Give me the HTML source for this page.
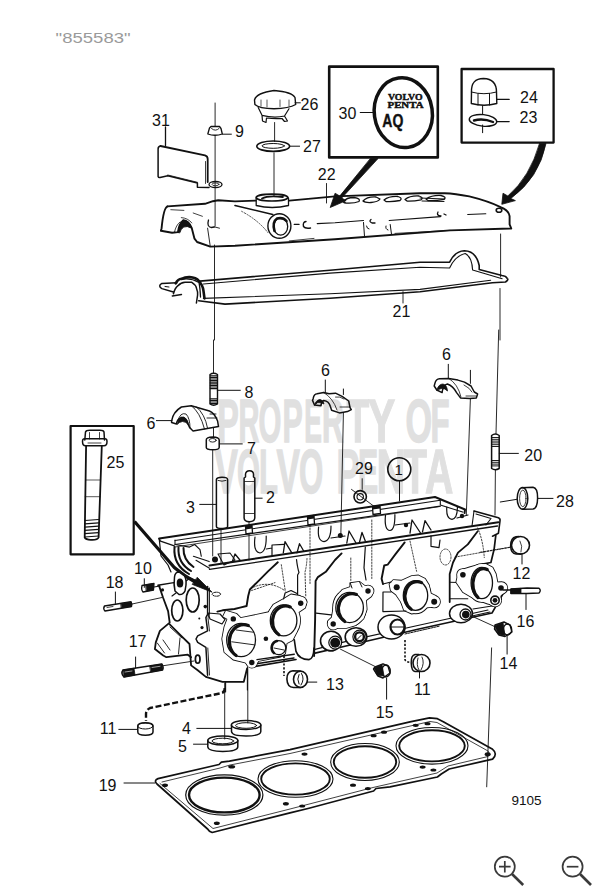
<!DOCTYPE html>
<html><head><meta charset="utf-8">
<style>
html,body{margin:0;padding:0;background:#fff;width:608px;height:895px;overflow:hidden}
svg{display:block}
.t{font-family:"Liberation Sans",sans-serif;font-size:16px;fill:#111}
</style></head><body>
<svg width="608" height="895" viewBox="0 0 608 895">
<rect width="608" height="895" fill="#fff"/>
<text x="55.6" y="43.4" textLength="75" lengthAdjust="spacingAndGlyphs" style="font-family:'Liberation Sans',sans-serif;font-size:15.5px;fill:#9a9a9a">"855583"</text>

<!-- watermark -->
<g fill="#e0e0e0" stroke="#e0e0e0" stroke-width="1.3" vector-effect="non-scaling-stroke" style="font-family:'Liberation Sans',sans-serif;font-weight:bold">
<text transform="translate(217.3 442) scale(0.522 1)" font-size="62">P</text>
<text transform="translate(238.4 442) scale(0.468 1)" font-size="62">R</text>
<text transform="translate(258.6 442) scale(0.474 1)" font-size="62">O</text>
<text transform="translate(282.6 442) scale(0.490 1)" font-size="62">P</text>
<text transform="translate(304.2 442) scale(0.427 1)" font-size="62">E</text>
<text transform="translate(322.1 442) scale(0.486 1)" font-size="62">R</text>
<text transform="translate(346.4 442) scale(0.600 1)" font-size="62">T</text>
<text transform="translate(367.9 442) scale(0.658 1)" font-size="62">Y</text>
<text transform="translate(405.4 442) scale(0.551 1)" font-size="62">O</text>
<text transform="translate(430.6 442) scale(0.504 1)" font-size="62">F</text>
<text transform="translate(214.5 493.3) scale(0.557 1)" font-size="63">V</text>
<text transform="translate(237.1 493.3) scale(0.469 1)" font-size="63">O</text>
<text transform="translate(259.1 493.3) scale(0.493 1)" font-size="63">L</text>
<text transform="translate(276.5 493.3) scale(0.557 1)" font-size="63">V</text>
<text transform="translate(299.0 493.3) scale(0.496 1)" font-size="63">O</text>
<text transform="translate(336.5 493.3) scale(0.542 1)" font-size="63">P</text>
<text transform="translate(358.1 493.3) scale(0.480 1)" font-size="63">E</text>
<text transform="translate(376.5 493.3) scale(0.634 1)" font-size="63">N</text>
<text transform="translate(403.2 493.3) scale(0.615 1)" font-size="63">T</text>
<text transform="translate(425.0 493.3) scale(0.622 1)" font-size="63">A</text>
</g>

<g fill="none" stroke="#111" stroke-width="1.2" stroke-linejoin="round" stroke-linecap="round">
<!-- box 30 -->
<rect x="329.2" y="66.6" width="108.6" height="90.8" stroke-width="2.6"/>
<ellipse cx="403.3" cy="112.7" rx="29" ry="35" stroke-width="3.5" transform="rotate(-8 403.3 112.7)"/>
<line x1="360.3" y1="112.5" x2="373.5" y2="112.5"/>
<!-- box 24/23 -->
<rect x="461.6" y="69" width="92" height="73.6" stroke-width="2.3"/>
<!-- box 25 -->
<rect x="70.6" y="426" width="63.1" height="128.3" stroke-width="2.2"/>
</g>


<!-- ===== TOP SECTION ===== -->
<g fill="none" stroke="#111" stroke-width="1.3" stroke-linejoin="round" stroke-linecap="round">
<!-- bracket 31 -->
<path d="M165.5 127 V145.5"/>
<path d="M160.5 146 Q158 146.5 158.1 149 V176.5 Q158.5 177.8 160 177.5 L167.8 175.7 L197.4 183 L197.4 187.2 L209 187.5" stroke-width="1.5"/>
<path d="M160.5 146 L205 155.4 Q207.7 156.2 207.7 159 V182" stroke-width="1.8"/>
<path d="M205.5 161.5 V183.5 M167.8 175 L197.4 182.3" stroke-width="0.8"/>
<ellipse cx="215.5" cy="184.5" rx="6.5" ry="3"/>
<ellipse cx="215.5" cy="184.3" rx="3.5" ry="1.4" stroke-width="0.8"/>
<!-- nut 9 -->
<path d="M215.1 103 V126 M215.1 136 V226" stroke-width="0.9"/>
<path d="M209.5 128 L211 126.5 H219.5 L221 128.5 L222.3 134 Q215 136.5 207.8 134 Z"/>
<path d="M211.5 128.5 Q215.5 132 219 128.5" stroke-width="0.9"/>
<path d="M222.5 134.2 H231.4" stroke-width="1"/>
<!-- cap 26 -->
<path d="M254.5 100 Q256 93 274 90.5 Q292 92 295 97.5 L295.7 104.5 Q289 108.5 274 108.7 Q259 108.5 254.9 104.5 Z" stroke-width="1.4"/>
<path d="M258.2 107.5 L262 115.3 Q274 118.5 284.5 116 L289 108.7 M262 115.3 L262.5 121 L266 122.5 L266.5 118 Q274 119 282 118.5 L284.5 121.5 L287.5 121 L284.5 116" stroke-width="1.2"/>
<path d="M261 100 V106 M267 100 V107 M280 100 V106.5 M289 100 V106" stroke-width="0.7"/>
<path d="M295 102.8 H300.3" stroke-width="1"/>
<path d="M274.6 122.5 V141.5 M274 152.8 V196" stroke-width="0.9"/>
<!-- ring 27 -->
<ellipse cx="273.2" cy="146.2" rx="16.4" ry="5.2" stroke-width="1.6"/>
<ellipse cx="273.2" cy="145.9" rx="11.2" ry="2.4" stroke-width="1"/>
<path d="M289.7 146.2 H299.6" stroke-width="1"/>
<!-- leader 22 -->
<path d="M326.5 183.5 V203" stroke-width="0.9"/>

<!-- box 24/23 contents -->
<path d="M471.5 92 Q471 78.5 483.5 78.5 Q496.5 79 496.5 92 L496.8 103.5 Q484 107 471.3 103.5 Z" stroke-width="1.4"/>
<path d="M471.3 92 Q484 95.5 496.5 92 M478 93.5 V105 M489.5 93.5 V105" stroke-width="1"/>
<path d="M496.9 99.4 H509.2 M496.9 121.6 H509.2" stroke-width="1.2"/>
<path d="M482.6 105.6 V114 M482.6 125 V132.7" stroke-width="1"/>
<ellipse cx="483" cy="120.4" rx="13.8" ry="5.8" stroke-width="1.4" transform="rotate(6 483 120.4)"/>
<path d="M474 120.5 Q483 118 493 122" stroke-width="2.4"/>
<!-- box 30 arrow -->
<path d="M370.6 158.6 L378 158.6 L341.7 198.1 L346.2 200.6 L330.2 207.5 L335.1 193.2 L339.5 195.9 Z" fill="#111" stroke-width="0.8"/>
<!-- curved arrow to cover -->
<path d="M539.5 143.5 L546 143.5 Q539 178 510.8 198.5 L515.4 200.6 L501.8 204.3 L503 193.2 L507.8 196 Q530 177 539.5 143.5 Z" fill="#111" stroke-width="0.8"/>

<!-- valve cover 22 -->
<path d="M167.5 206.4 Q163.5 208 161.6 228.2 L160.9 230.8 L172.1 232.8 L178 232.1 Q179 224 183.3 220.3 Q189 221 191.8 228.2 L194.5 238.7 L197.1 242 L210.3 246.6 L235 245.8 L335 239.2 L450 230.4 L511.3 228.5 L509.6 224.4 V216.2 Q509 210.5 500.6 207.1 Q488 201 469.3 196.4 Q455 193.5 444.7 193.2 L420 193.2 L335 196.4 L289.3 200.6" stroke-width="1.9"/>
<path d="M167.5 206.4 L205 203.8 L212.9 201.2 L218.2 200.3 L235 201.4 L255.6 200.6" stroke-width="1.9"/>
<path d="M178 232.1 Q179 224 183.3 220.3 Q189 221 191.8 228.2 Q187 225.5 183.5 227 Q180.5 229.5 179.8 232.5 Z" fill="#111" stroke-width="1"/>
<path d="M174.5 232 Q176 225 180 222" stroke-width="0.8"/>
<path d="M170.8 209.7 L183.9 210.4 M181.3 217.6 Q188 218 191.8 222.9 M193.2 213 L202.4 216.3" stroke-width="0.8"/>
<path d="M207.6 228.2 L210.3 246.6 M214.2 226.8 L219.5 228.2" stroke-width="0.9"/>
<path d="M208.5 220 Q206.5 227 211.5 227.5 L214.2 227" stroke-width="1.3"/>
<ellipse cx="272" cy="197.6" rx="15.8" ry="3.4" stroke-width="1.7"/>
<path d="M262 198.5 Q268 195 283 197" stroke-width="1.8"/>
<path d="M256.2 198 V205.5 Q272 209.5 288.5 205.5 V198" stroke-width="1.3"/>
<path d="M235 205.5 L272.8 214.5" stroke-width="1.6"/>
<path d="M241.6 211.3 Q258 220 267.9 232.6" stroke-width="0.7" stroke-dasharray="1.5 1.5"/>
<ellipse cx="279.4" cy="226" rx="11.5" ry="12.3" stroke-width="1.4"/>
<path d="M274.5 231 Q272 222 277 218.5 Q283 217 286.5 221" stroke-width="2.6"/>
<ellipse cx="280.7" cy="226.5" rx="7" ry="8.7" stroke-width="1.3"/>
<path d="M294.2 224.4 H299.1 M317.2 223.6 L335 222.8 L363.5 220.5 M389.2 220.5 L440.5 216.6 M467.7 214.5 L485.8 213.7" stroke-width="1.1"/>
<path d="M306 221.5 Q302.5 222 303.5 226.5 Q305 228.8 310.5 228" stroke-width="1.4"/>
<path d="M371 219.5 Q368.5 221.5 372 223 L375 223 M438 212 Q436 215.5 441 216 M444 214 L446 215" stroke-width="1.3"/>
<path d="M363.5 222.5 L364.5 236.3 M390.2 224.5 L391.5 234.3 M366.5 226 Q367 229 369 229 M386 226 Q385 229 388 230" stroke-width="1"/>
<path d="M289.3 240.9 L314 238.4 M395 233.4 L450 230.4" stroke-width="0.8"/>
<path d="M420 198 L444.7 199 M422 201 L444 201.5" stroke-width="1"/>
<!-- embossed letters -->
<path d="M344 201.5 Q346 197.5 354 197.5 Q361 198.5 359 201.5 Q354 203.5 346 203 Q342.5 202.5 344 201.5 Z M363 201 Q367 196.5 376 197 L380 199 Q378 202 371 202.5 Q365 202.8 363 201 Z M384 200 Q389 196 398 196.5 Q403 198 400 200.5 Q393 202 386 201.5 Z M405 199.5 Q410 195.5 419 196 Q424 197.5 421 199.8 Q414 201.2 407 201 Z M426 199 Q432 195 441 195.5 Q447 197 444 199.3 Q436 200.8 428 200.5 Z" stroke-width="1.3"/>
<ellipse cx="499" cy="210.3" rx="2.8" ry="2" stroke-width="1.6"/>
<!-- gasket 21 -->
<path d="M199.9 281.1 L330 270.2 L420 262.2 L449.6 262.2 Q455 251 464.4 250.7 Q476 251 479.2 265.5 V269.6 L502 275.5 Q506 276 507.2 278.3 Q509 279.5 505.5 282 L492.4 282.8 L420 291.8 L330 298.3 L225 304.1 L198.7 300.7" stroke-width="1.6"/>
<path d="M203.4 284 L330 273.1 L420 267.2 L449.6 268 Q455 256 465.2 253.5 Q472 257 472.6 270 L502.2 278.7 M203.4 298.4 L330 293.8 L420 289.4 L490.7 280.3" stroke-width="1.1"/>
<path d="M176.9 282.8 L161.9 283.4 Q157.5 286 161.9 288.6 L173.4 292" stroke-width="1.5"/>
<path d="M175.7 283.4 Q178 279 181.5 278.8 Q185 277 189.5 277.1 Q196 277.5 199 281 Q203 286 203.4 290.3 L204.5 298.4" stroke-width="2.6"/>
<path d="M173.4 293.8 Q175 288 178 285.7 Q181 282.5 185 282.3 L191.8 282.3 Q196 285 196.4 288 Q198 292 197.6 295 L196.4 303" stroke-width="1.5"/>
<path d="M181.5 279.5 Q190 277.5 199 282.5 Q200 287 200.5 297" stroke-width="1.3"/>
<path d="M172.3 296 L181.5 294.5" stroke-width="1.4"/>
<path d="M165 286.5 L169 287" stroke-width="1"/>
<path d="M214.5 245 V340 M500.6 234 V277 M500 288.5 V340" stroke-width="0.9"/>
<path d="M403 291.7 V303" stroke-width="0.9"/>
</g>


<g fill="#111">
<text x="388" y="100.2" font-family="Liberation Serif" font-weight="bold" font-size="9.2" textLength="34.5" lengthAdjust="spacingAndGlyphs" stroke="#111" stroke-width="0.45">VOLVO</text>
<text x="387.5" y="107.6" font-family="Liberation Serif" font-weight="bold" font-size="9.2" textLength="36" lengthAdjust="spacingAndGlyphs" stroke="#111" stroke-width="0.45">PENTA</text>
<text x="382.3" y="126.6" font-family="Liberation Sans" font-weight="bold" font-size="18.5" textLength="21" lengthAdjust="spacingAndGlyphs" stroke="#111" stroke-width="0.4">AQ</text>
</g>


<!-- ===== MIDDLE SECTION ===== -->
<g fill="none" stroke="#111" stroke-width="1.3" stroke-linejoin="round" stroke-linecap="round">
<!-- stud 8 -->
<path d="M213.5 340 V373" stroke-width="0.9"/>
<path d="M210 374.5 Q213.5 372 217.5 374.5 V404 Q213.5 406.5 210 404 Z" stroke-width="1.4"/>
<path d="M210.3 375.8 H217.2 M210.3 377.4 H217.2 M210.3 379.0 H217.2 M210.3 380.6 H217.2 M210.3 382.2 H217.2 M210.3 383.8 H217.2 M210.3 385.4 H217.2 M210.3 387.0 H217.2 M210.3 388.6 H217.2 M210.3 398.8 H217.2 M210.3 400.4 H217.2 M210.3 402.0 H217.2 M210.3 403.6 H217.2 " stroke-width="1.1"/>
<path d="M217.3 390.3 H240.3" stroke-width="1"/>
<!-- bridge 6 left -->
<path d="M171.6 421 Q173 412 181.4 407 L191.3 405.7 L209.4 411 Q214.5 413 217.6 421 L218.5 426.6 L204.5 429 L193 431 Q189 428 188 424 Q186 417 181 417.6 Q177 419 176.5 424 L171.6 422.5 Z" stroke-width="1.5"/>
<path d="M178 421 Q180 412 186 414 Q190 418 190 428 M191.3 405.7 Q200 412 204.5 429 M196 406.5 Q205 414 207.5 428 M207 418 L217 418 M210 414 H216" stroke-width="0.9"/>
<path d="M156.4 420.6 H172" stroke-width="1"/><path d="M177.5 424 Q178.5 417 183.5 417 Q187.5 418.5 188.5 425 Q186 421.5 182.5 421.5 Q179 422 177.5 424 Z" fill="#111" stroke-width="0.8"/>
<path d="M213.5 427.5 V437" stroke-width="0.9"/>
<!-- part 7 -->
<path d="M206.3 440 Q206 437.2 212.7 437 Q219 437.2 219.2 440 V447.5 Q219 449.8 212.7 449.8 Q206.3 449.7 206.3 447.5 Z" stroke-width="1.5"/>
<ellipse cx="212.7" cy="440.3" rx="3.5" ry="1.8" stroke-width="0.9"/>
<path d="M219.3 443.9 H242.3" stroke-width="1"/>
<path d="M212.7 449.6 V556" stroke-width="0.9"/>
<!-- bridge 6 middle -->
<path d="M313.2 398.4 Q314 394 317.1 393.8 L323.7 392.5 L329 393.8 L335.5 393.2 L342.1 396.4 L348.7 401 L350 407.6 L351.3 409.6 L347.4 411.6 L339.5 412.9 L331.6 410.3 L330.3 406.3 Q329 401 323.7 400.4 Q321 402 321 405.7 L314.5 405 L312.5 400.4 Z" stroke-width="1.5"/>
<path d="M323.7 392.5 Q333 398 337 410 M335.5 397 Q340 396 344 399 M340 407 H350" stroke-width="0.8"/>
<path d="M325.3 380 V392.5 M343.4 389 V394.5" stroke-width="1"/><path d="M314.5 405 Q316 400 320 399.5 Q323.5 400 324 404 Q321 402 318 402.5 Z" fill="#111" stroke-width="0.8"/>
<path d="M343.4 413 L340.8 537" stroke-width="0.9"/>
<!-- bridge 6 right -->
<path d="M434.9 383.4 Q436 379 439.5 378.8 L448.7 378.4 L457.9 380.1 L464.5 382.1 L471 386 L474.3 392 L477.6 394 L476.3 397.9 L469.7 398.6 L460.5 397.9 L456.6 392.6 Q453 386 447.4 384 Q443 385 442.1 392.6 L436.8 390 L434.2 386 Z" stroke-width="1.5"/>
<path d="M448.7 378.4 Q458 384 461 397 M464 385 Q470 388 472 392 M466 396 H476" stroke-width="0.8"/>
<path d="M448.3 364.3 V378.2 M470.4 370.3 V383.4" stroke-width="1"/><path d="M436.8 390 Q438.5 384 443 384 Q447 385 447.5 391 Q445 388 441.5 388.5 Z" fill="#111" stroke-width="0.8"/>
<path d="M470.4 398.6 L466.3 515" stroke-width="0.9"/>
<!-- stud 20 -->
<path d="M498.7 330 L496 433.6" stroke-width="0.9"/>
<path d="M491.6 435.5 Q495.3 432.5 499.2 435.5 V468.5 Q495.3 471 491.6 468.5 Z" stroke-width="1.5"/>
<path d="M491.9 437.5 H499 M491.9 439.3 H499 M491.9 441.1 H499 M491.9 442.9 H499 M491.9 444.7 H499 M491.9 446.5 H499 M491.9 460.5 H499 M491.9 462.3 H499 M491.9 464.1 H499 M491.9 465.9 H499 " stroke-width="0.95"/>
<path d="M499.3 453.4 H518.4" stroke-width="1"/>
<path d="M495.4 470 L495 515" stroke-width="0.9"/>
<!-- ring 28 -->
<path d="M522 487.7 L533 487.2 Q537.8 488 537.6 498 Q537.5 508.5 533 509 L522.5 509.2" stroke-width="1.5"/>
<ellipse cx="522.5" cy="498.4" rx="5.3" ry="10.8" stroke-width="1.5"/>
<ellipse cx="522.8" cy="498.4" rx="3.2" ry="8.3" stroke-width="0.8"/>
<path d="M537.5 498.4 H553 M500.3 502 L517 499.3" stroke-width="1"/>
<!-- 29 -->
<path d="M362.2 478.7 V489.4 M351.5 489.4 L374.5 506.7" stroke-width="0.9"/>
<circle cx="360.2" cy="496.8" r="6.2" stroke-width="1.6"/>
<circle cx="360.2" cy="496.8" r="3.2" stroke-width="1.1"/>
<!-- circle 1 -->
<circle cx="399.3" cy="469.3" r="11.5" stroke-width="1.6"/>
<path d="M399.5 480.8 V501" stroke-width="1"/>
<!-- pushrod 3 -->
<path d="M216.4 479.5 Q216.8 477.3 222 477.3 Q227.5 477.3 227.6 479.5 V526.5 Q227.5 528.5 222 528.5 Q216.5 528.5 216.4 526.5 Z" stroke-width="1.5"/>
<path d="M218 480.5 Q222 482 226 480.5" stroke-width="0.9"/>
<path d="M199.7 504.4 H216.2" stroke-width="1"/>
<path d="M221 528.5 V563" stroke-width="0.9"/>
<!-- pushrod 2 -->
<path d="M245.5 474 Q246 470.7 249.5 470.7 Q253.2 470.7 253.5 474 V477 L254.8 478 V518 Q254.5 521.7 249.5 521.7 Q244.3 521.7 244.1 518 V478 L245.5 477 Z" stroke-width="1.5"/>
<path d="M244.5 481.5 H254.5 M244.5 513.5 H254.5" stroke-width="0.8"/>
<path d="M254.8 498.2 H262.2" stroke-width="1"/>
<path d="M249 521.7 V560" stroke-width="0.9"/>
<!-- bolt 25 in box -->
<path d="M84.8 440 L85.5 432 Q86 430.2 90 430.2 H100 Q103.5 430.2 104 432 L104.5 440" stroke-width="1.5"/>
<path d="M82.5 441.5 Q82.5 438.5 85 438.8 H104.5 Q107 438.5 107 441.5 Q107 445.8 104 445.8 H85.5 Q82.5 445.8 82.5 441.5 Z" stroke-width="1.5"/>
<path d="M89.5 432.5 V439 M99.5 432.5 V439 M88 443 H101" stroke-width="0.8"/>
<path d="M86.1 445.8 L84.7 537.5 Q86 540 91.5 539.8 Q97.5 540 98.6 537.5 L101.8 445.8" stroke-width="1.8"/>
<path d="M85.5 480 H100.3 M85.2 496.7 H100" stroke-width="0.7"/><path d="M85 520.5 L98.5 519.5 M84.9 523.8 L98.6 522.8 M84.8 527.1 L98.5 526.1 M84.8 530.4 L98.5 529.4 M84.7 533.7 L98.5 532.7 M84.7 537 L98.5 536" stroke-width="1.2"/>
<!-- arrow from box 25 -->
<path d="M134.5 521.5 L174.3 567.5 Q184 576 196 582.5" stroke-width="3.3" stroke-linecap="butt"/>
<path d="M192.5 584.5 L212.1 592.2 L197.5 577.5 Z" fill="#111" stroke-width="0.8"/>
</g>


<!-- ===== CYLINDER HEAD ===== -->
<g fill="none" stroke="#111" stroke-width="1.4" stroke-linejoin="round" stroke-linecap="round">
<!-- rim back top -->
<path d="M159.2 538.6 L435 497 L465 509.5 L464.5 513" stroke-width="2"/>
<path d="M175 540.5 L440.3 500.3 L440.3 504.9 L462.6 512.1" stroke-width="1.1"/>
<path d="M175 540 V544.5 L189.5 547.1 L194.7 544.5 L200 549.7 L201.3 556.3" stroke-width="1.1"/>
<path d="M175 544.5 L440.3 506.2" stroke-width="1.2"/>
<path d="M159.2 538.6 L160.5 541.2 L174.3 545.8" stroke-width="1.3"/>
<!-- rim right end piece -->
<path d="M474 511 L498.4 517.7 Q500.5 518.5 500 521 L498.4 533.3 L492.5 536.2" stroke-width="1.6"/>
<path d="M474 511 L472 526 M476 514 L491 518.5 L486 525" stroke-width="1.1"/>
<!-- rim front -->
<path d="M209.5 565.5 L498.4 522.2" stroke-width="2"/>
<path d="M209.5 569.3 L497.5 526" stroke-width="1.3"/>
<path d="M196 560.3 L209.5 568.2 M193.4 556.3 L209.2 561.6" stroke-width="1.1"/>
<!-- rim dividers -->
<path d="M307.5 516.5 L314 515.5 L314.5 524 L308 525 Z M372.5 506.5 L380 505.5 L380.5 513.5 L373 514.5 Z M245.5 526.5 L252 525.5 L252.5 533 L246 534 Z" fill="#fff" stroke-width="1.3"/>
<path d="M307.5 516.5 L314 515.5 L314 518.5 L307.5 519.5 Z M372.5 506.5 L380 505.5 L380 508.5 L372.5 509.5 Z M245.5 526.5 L252 525.5 L252 528.5 L245.5 529.5 Z" fill="#111" stroke="none"/>
<path d="M175 547 L440 506.5" stroke-width="0.8"/>
<!-- left bearing arch -->
<path d="M174.5 547 Q173 565 189 574 M178.5 547.5 Q177.5 563 191 571 M183.5 548 Q183 560 193.5 567" stroke-width="2"/><path d="M174.5 547 L183.5 548 L193.5 567 L189 574 Z" fill="none" stroke-width="0"/>
<!-- cam pockets -->
<path d="M255 537 Q253 552 260 553 Q266.5 552 266.2 536" stroke-width="1.2"/>
<path d="M318.6 527 Q317 541 324 541.6 Q331 540.5 331 526" stroke-width="1.2"/>
<path d="M385.5 515 Q384 530 390 530.5 Q395 530 394.9 514.7" stroke-width="1.2"/>
<path d="M446.8 507 Q446 519 452 519.3 Q457.5 518.5 457.4 506.8" stroke-width="1.2"/>
<!-- pedestals -->
<path d="M232.6 560.8 L235 554 L239.9 560 M283.3 552.9 L285 541.7 L291.8 552.9 M297 552.9 L299.5 543.7 L303.7 551" stroke-width="1.3"/>
<path d="M346.8 543 L349 531 L356 543 M359.3 543 L362 532.4 L365.3 541" stroke-width="1.3"/>
<path d="M410 533.2 L412 520 L420.5 533 M422.5 531.8 L425 520.7 L431 530" stroke-width="1.3"/>
<path d="M272 555.5 V545 L284 544.3 M266.3 549 L272 548 M331 538 L345 536 M395 525 L410 523 M457 518 L468 515" stroke-width="1.2"/>
<circle cx="215" cy="559.5" r="3" fill="#111" stroke="none"/>
<circle cx="340.3" cy="535.5" r="2.5" fill="#111" stroke="none"/>
<circle cx="406" cy="525" r="2.2" fill="#111" stroke="none"/>
<circle cx="462" cy="516" r="2.2" fill="#111" stroke="none"/>
<path d="M218 554 L230 553 L235 560 L224 565 Z" stroke-width="1.1"/>
<!-- body outlines below rim -->
<path d="M277.8 562.3 L268 571.4 L258.1 581.3 L249.9 589.5 L248.2 596 L246.6 606 L240 607.6 L234.5 609 L222.6 610.3 L217.4 611.6" stroke-width="1.9"/>
<path d="M341.6 553.4 L335 560 L325.8 571.8 L317.9 577.1 L315.6 581 L315.1 620 L314.1 656" stroke-width="1.9"/><path d="M316.1 613.2 L333.2 615.2" stroke-width="1.2"/>
<path d="M404.7 542.4 L395.5 554.2 L387.6 564.7 L384.2 565.5 L381.6 578.7 L383 584" stroke-width="1.9"/>
<path d="M477.7 531.3 L467.8 544.4 L458 552.6 L453 562.5 L449.7 574 L449.7 602" stroke-width="1.8"/>
<path d="M495.8 535.4 L494.1 549.3 L490.9 562.5 L482.6 564.1" stroke-width="1.7"/>
<path d="M296.5 559.5 Q297.5 568 299 572.5 L297.6 575 V595 M365.3 547 L364 567.9 L366 580 M431 535.8 V546.3 L439 547.6 L440 540" stroke-width="1.2"/><path d="M307 558.5 Q306.5 567 305 572 L305.8 597" stroke-width="0.8" stroke-dasharray="1.5 1.5"/>
<path d="M281.3 564.7 L285.3 591 M253.7 587.1 Q270 580 285.3 591 M350.8 558 L350.8 581 M410 541 L416.6 571.3 M371.8 520 V580 M310 525 V585" stroke-width="0.8" stroke-dasharray="1.5 1.5"/>
<ellipse cx="445.5" cy="557" rx="5.5" ry="8" stroke-width="0.8" stroke-dasharray="1.5 1.5"/>
<path d="M251.6 590.5 L275 582.6 M455 557.1 L511 547.2" stroke-width="0.8" stroke-dasharray="1.5 1.5"/>
<path d="M477.7 528 Q483 540 484.3 557.6" stroke-width="0.8" stroke-dasharray="1.5 1.5"/><path d="M449.7 582.2 L458 582.5 M449.7 598.7 L467.8 598.7" stroke-width="1.1"/>
<!-- left end: face & plate -->
<path d="M159.2 538.6 L161 556 L168 565 L171 572" stroke-width="1.2"/>
<path d="M157.9 585.3 L173.7 582.6 L182 584 L190 578 L201 583" stroke-width="1.4"/>
<path d="M159 585.6 L163.2 598 L168.1 611.1 L169.7 622.6 L159.9 630.9 L155.8 642.4 L154.9 649 L163.2 655.5 L166.4 657.2 L187.8 654.7 L191.1 657.2" stroke-width="1.8"/>
<path d="M169.7 624.3 L181.2 635.8 L189.5 644 L191.1 665.4 L197.7 670.3 L205.9 676.9 L222.4 681.8 L243.8 681.8 L247 668.7" stroke-width="1.8"/>
<path d="M157.3 643 L164.5 653 M163 640 L170 650 M170 627 L182 638 M180 638 L178.5 654" stroke-width="0.9"/>
<ellipse cx="177.3" cy="610.5" rx="5.6" ry="10.5" stroke-width="1.7"/>
<ellipse cx="192.7" cy="600" rx="6.5" ry="12" stroke-width="1.7"/>
<path d="M207.6 586.4 V614.4 L205.9 617.7 L207.6 630.9 L197.7 635.8 L196 639 L197.7 642.4 L205.9 647.3 L207.6 675.3" stroke-width="1.5"/><path d="M209.5 588 V614 L208 618 L209.5 631 M207.8 648 L209.5 675" stroke-width="0.9"/>
<ellipse cx="197.7" cy="659.2" rx="2.3" ry="4" stroke-width="1.8"/>
<circle cx="205.3" cy="606.6" r="1.8" fill="#111" stroke="none"/>
<circle cx="202" cy="627.6" r="1.6" fill="#111" stroke="none"/>
<circle cx="199.3" cy="618.4" r="1" fill="#111" stroke="none"/>
<circle cx="162.5" cy="589.9" r="1.6" fill="#111" stroke="none"/>
<path d="M174.5 577 Q175 572 179 572 L184.5 576 Q186.5 579 186 585 L185 591 Q183 595 179 594.5 L175 591 Q173.5 585 174.5 577 Z" fill="#fff" stroke-width="1.5"/><ellipse cx="180" cy="583" rx="3.3" ry="4.5" fill="#111" stroke="none"/><path d="M176 593 L172 596" stroke-width="1.2"/>
<path d="M208 613 L220 614 L225 619.5 L222 624 L210 619 Z" stroke-width="1.2"/>
<ellipse cx="216.4" cy="594.2" rx="4.2" ry="2" stroke-width="1" stroke-dasharray="1.5 1"/>
<!-- bottom edges -->
<path d="M253.3 666.7 L296 659.5 M314 653.4 L350.3 645 L420 628.7 L492 613 L502.9 594.1" stroke-width="1.6"/>
<path d="M315 649.4 L350.3 640.4 L420 625 L488 610" stroke-width="1.1"/>
<path d="M225.6 682 V692 M247.4 667 V690" stroke-width="1.1"/>
<!-- flange 1 -->
<g fill="#fff" stroke="#111" stroke-width="1.7"><path d="M223 616.6 L227.4 618.9 L224.4 627 L222.2 638.8 L224.4 652.2 L233.3 659.6 L245.2 662.5 L248.9 666.2 L255.5 665.5 L258.5 661 L280.7 656.6 L285.1 653.6 L286.6 643.3 L292.5 640.3 L297 631.4 L297.7 619.6 L298.4 612.2 L305.1 607.8 L306.6 601.8 L299.9 595.9 L291 594.4 L283.6 598.9 L273.3 604.8 L268.8 612.2 L240.7 618.1 L236.3 613.7 L225.9 610.7 Z"/><ellipse cx="241.1" cy="640" rx="17.8" ry="20"/><ellipse cx="283.6" cy="620.4" rx="16.5" ry="18.6"/><circle cx="233.3" cy="618.9" r="5.2"/><circle cx="300.7" cy="602.3" r="5.8"/><circle cx="251.8" cy="662.5" r="5.2"/></g>
<g fill="#fff" stroke="none"><path d="M223 616.6 L227.4 618.9 L224.4 627 L222.2 638.8 L224.4 652.2 L233.3 659.6 L245.2 662.5 L248.9 666.2 L255.5 665.5 L258.5 661 L280.7 656.6 L285.1 653.6 L286.6 643.3 L292.5 640.3 L297 631.4 L297.7 619.6 L298.4 612.2 L305.1 607.8 L306.6 601.8 L299.9 595.9 L291 594.4 L283.6 598.9 L273.3 604.8 L268.8 612.2 L240.7 618.1 L236.3 613.7 L225.9 610.7 Z"/><ellipse cx="241.1" cy="640" rx="17.8" ry="20"/><ellipse cx="283.6" cy="620.4" rx="16.5" ry="18.6"/><circle cx="233.3" cy="618.9" r="5.2"/><circle cx="300.7" cy="602.3" r="5.8"/><circle cx="251.8" cy="662.5" r="5.2"/></g>
<ellipse cx="241.1" cy="640" rx="14.4" ry="16.7" stroke-width="1.3"/><path d="M236.1 655.5 A14.4 16.7 0 0 1 248.3 625.5" stroke-width="3.2"/><ellipse cx="283.6" cy="620.4" rx="13.3" ry="15.5" stroke-width="1.3"/><path d="M278.9 634.8 A13.3 15.5 0 0 1 290.2 606.9" stroke-width="3.2"/><path d="M231.8 641.8 L254 644.8 M236.3 630 L253.3 632.2" stroke-width="0.9"/><circle cx="278.8" cy="647.7" r="7" stroke-width="1.3"/><path d="M274 653 A7 7 0 0 1 277 641" stroke-width="2.6"/><path d="M274 648 L284 650" stroke-width="0.9"/><circle cx="233.3" cy="618.9" r="2.7" fill="#111" stroke="none"/><circle cx="300.7" cy="603.3" r="2.7" fill="#111" stroke="none"/><circle cx="251.8" cy="662.5" r="2.7" fill="#111" stroke="none"/><circle cx="265.9" cy="638.8" r="2.3" fill="#111" stroke="none"/><path d="M285.1 593 L291 590.5 L297 593.5 M283.6 598.9 L285.1 593" stroke-width="1.2"/><path d="M257 659.6 L294.3 654.2 M258 663.5 L294 658" stroke-width="1.4"/><path d="M294.3 639.9 L296 651.4 Q299 659.5 309 659.6 Q313.5 659 314 648" stroke-width="1.6"/>
<!-- flange 2 -->
<g fill="#fff" stroke="#111" stroke-width="1.7"><path d="M350.3 583.2 L359.5 581.8 L364.7 585.8 L370 586.4 L373.3 591 L371.3 596.3 L366 600.3 L366.7 609.5 L363.4 618.7 L355.5 625.3 L346.3 628 L338.4 628 L334.5 628.6 L329.2 626.6 L327.9 621.3 L331.8 617.4 L333.2 609.5 L335.8 597.6 L342.4 589.7 L350.3 587.1 Z"/><ellipse cx="349.6" cy="607.5" rx="16.5" ry="18.5"/><circle cx="368" cy="591" r="5.5"/><circle cx="333.2" cy="624" r="5.5"/></g>
<g fill="#fff" stroke="none"><path d="M350.3 583.2 L359.5 581.8 L364.7 585.8 L370 586.4 L373.3 591 L371.3 596.3 L366 600.3 L366.7 609.5 L363.4 618.7 L355.5 625.3 L346.3 628 L338.4 628 L334.5 628.6 L329.2 626.6 L327.9 621.3 L331.8 617.4 L333.2 609.5 L335.8 597.6 L342.4 589.7 L350.3 587.1 Z"/><ellipse cx="349.6" cy="607.5" rx="16.5" ry="18.5"/><circle cx="368" cy="591" r="5.5"/><circle cx="333.2" cy="624" r="5.5"/></g>
<ellipse cx="349.6" cy="607.5" rx="13.8" ry="15.1" stroke-width="1.3"/><path d="M344.8 621.5 A13.8 15.1 0 0 1 356.5 594.4" stroke-width="3.2"/><circle cx="368" cy="591" r="2.7" fill="#111" stroke="none"/><circle cx="333.2" cy="624" r="2.7" fill="#111" stroke="none"/><path d="M350.3 583.2 L352 588 M359.5 581.8 L362 587" stroke-width="1"/>
<ellipse cx="331" cy="641" rx="10.5" ry="9.8" fill="#fff" stroke-width="1.6"/><path d="M322 646 Q325 652 333 651" stroke-width="1"/><circle cx="335.2" cy="642.6" r="6.4" fill="#fff" stroke-width="1.2"/><circle cx="335.2" cy="642.8" r="5" fill="#111" stroke="none"/><ellipse cx="356" cy="637" rx="10.8" ry="9.3" fill="#fff" stroke-width="1.6"/><circle cx="359.5" cy="636.8" r="6.6" fill="#fff" stroke-width="1.2"/><circle cx="359.5" cy="636.8" r="4.4" fill="#fff" stroke-width="2.4"/><path d="M357.5 639 L361 635.5" stroke-width="1"/>
<!-- flange 3 -->
<g fill="#fff" stroke="#111" stroke-width="1.7"><path d="M389.5 584 L393.4 580 L401.3 580.7 L411.8 576 L418.4 575.4 L425 578.7 L429 585.3 L430.3 593.2 L435.5 595.8 L438.8 600.4 L436.8 605.7 L431.6 607 L425 607.6 L419.7 611.6 L411.8 613.6 L404 610.3 L401.3 602.4 L396 594.5 L390.8 590.5 Z"/><ellipse cx="415.5" cy="595.5" rx="15.3" ry="17.8"/><circle cx="396.7" cy="587.2" r="5.8"/><circle cx="434.2" cy="601.7" r="5.8"/></g>
<g fill="#fff" stroke="none"><path d="M389.5 584 L393.4 580 L401.3 580.7 L411.8 576 L418.4 575.4 L425 578.7 L429 585.3 L430.3 593.2 L435.5 595.8 L438.8 600.4 L436.8 605.7 L431.6 607 L425 607.6 L419.7 611.6 L411.8 613.6 L404 610.3 L401.3 602.4 L396 594.5 L390.8 590.5 Z"/><ellipse cx="415.5" cy="595.5" rx="15.3" ry="17.8"/><circle cx="396.7" cy="587.2" r="5.8"/><circle cx="434.2" cy="601.7" r="5.8"/></g>
<ellipse cx="415.5" cy="595.5" rx="12.2" ry="14.8" stroke-width="1.3"/><path d="M411.2 609.3 A12.2 14.8 0 0 1 421.6 582.6" stroke-width="3.2"/><circle cx="396.7" cy="587.2" r="3" fill="#111" stroke="none"/><circle cx="434.2" cy="601.7" r="3" fill="#111" stroke="none"/><path d="M383 584 L391 582 M382.9 611.6 L383 592 L391 592 M382.9 611.6 L406 611" stroke-width="1.2"/><ellipse cx="391.5" cy="627" rx="13.5" ry="12" fill="#fff" stroke-width="1.5"/><ellipse cx="397.5" cy="627" rx="7" ry="7.5" fill="#fff" stroke-width="2.2"/><path d="M391 627 H404" stroke-width="1"/><path d="M405 634 L440 626" stroke-width="1" stroke-dasharray="2 1"/>
<!-- flange 4 -->
<g fill="#fff" stroke="#111" stroke-width="1.7"><path d="M458.8 570.7 L469.5 567.4 L477.7 565 L485.9 564.1 L492.5 567.4 L495.8 574 L497.4 582.2 L504 583 L506.5 587.2 L504.8 592.1 L500.7 595.4 L499.1 602 L494.1 605.3 L487.6 603.6 L474.4 598.7 L462.9 592.1 L456.3 582.2 Z"/><ellipse cx="481.8" cy="583" rx="14.2" ry="19"/><circle cx="462.9" cy="574.8" r="5.8"/><circle cx="501.5" cy="588" r="5.8"/><circle cx="495" cy="600.3" r="6.2"/></g>
<g fill="#fff" stroke="none"><path d="M458.8 570.7 L469.5 567.4 L477.7 565 L485.9 564.1 L492.5 567.4 L495.8 574 L497.4 582.2 L504 583 L506.5 587.2 L504.8 592.1 L500.7 595.4 L499.1 602 L494.1 605.3 L487.6 603.6 L474.4 598.7 L462.9 592.1 L456.3 582.2 Z"/><ellipse cx="481.8" cy="583" rx="14.2" ry="19"/><circle cx="462.9" cy="574.8" r="5.8"/><circle cx="501.5" cy="588" r="5.8"/><circle cx="495" cy="600.3" r="6.2"/></g>
<ellipse cx="481.8" cy="583" rx="10.7" ry="15.6" stroke-width="1.3"/><path d="M478 597.5 A10.7 15.6 0 0 1 487.2 569.5" stroke-width="3.2"/><circle cx="462.9" cy="574.8" r="2.8" fill="#111" stroke="none"/><circle cx="501" cy="588" r="2.8" fill="#111" stroke="none"/><circle cx="495" cy="600.3" r="4.2" stroke-width="1.6"/><circle cx="495" cy="600.3" r="2.4" fill="#111" stroke="none"/><ellipse cx="461" cy="613.5" rx="11.5" ry="9.2" fill="#fff" stroke-width="1.5"/><ellipse cx="465.5" cy="614.5" rx="5.5" ry="5.5" fill="#fff" stroke-width="1.3"/><circle cx="465.8" cy="614.6" r="3.8" fill="#111" stroke="none"/><path d="M473 609 L492 606 M472 616 L490 612" stroke-width="1.1"/>
</g>
<!-- ===== LOWER SMALL PARTS ===== -->
<g fill="none" stroke="#111" stroke-width="1.3" stroke-linejoin="round" stroke-linecap="round">
<!-- 18 -->
<path d="M115.4 592 V603.5" stroke-width="1"/>
<path d="M104.5 606 L131 601.8 Q132.5 604 131.5 606.5 L105 611 Q102.8 608.5 104.5 606 Z" stroke-width="1.4"/>
<path d="M121 603.5 L131.5 602 L131.5 606.5 L121.5 608 Z" fill="#111" stroke-width="0.8"/>
<path d="M107 607.5 L113 606.5" stroke-width="0.8"/>
<path d="M131.2 604.2 L162 597.5" stroke-width="0.9"/>
<!-- 10 -->
<path d="M144.3 578.7 V587.4" stroke-width="1"/>
<path d="M142 585.5 Q141 590 143 592 L153.5 590 L154 583.5 Z" stroke-width="1.3"/>
<path d="M146 584.8 L153.5 583.5 L153.5 590 L146.5 591.2 Z" fill="#111" stroke-width="0.8"/>
<path d="M154 587 L160 586" stroke-width="1.2"/>
<!-- 17 -->
<path d="M135.6 657 V668" stroke-width="1"/>
<path d="M123 670 L162 664 Q164 667.5 162.5 670 L124 677 Q120.5 673.5 123 670 Z" stroke-width="1.5"/>
<path d="M123 670 L134 668.3 L135 675 L124 677 Z M150 666 L162 664 L162.5 670 L151 672 Z" fill="#111" stroke-width="0.8"/>
<path d="M125 672 L132 671 M152 667.5 L160 666.3" stroke="#fff" stroke-width="0.6"/>
<path d="M162.7 665.8 L194 661" stroke-width="0.9"/>
<!-- dashed line to 11 left -->
<path d="M224.7 688 Q225 692 222 693 L150 708 Q146 710 146 714 V721" stroke-width="2.4" stroke-dasharray="6 2.5" stroke-linecap="butt"/>
<!-- 11 left -->
<path d="M137.8 726 Q137.5 722.8 145.3 722.8 Q153 722.8 153 726 V732 Q153 735.2 145.3 735.2 Q137.6 735.2 137.8 732 Z" stroke-width="1.5"/>
<ellipse cx="145.3" cy="726" rx="7.6" ry="3" stroke-width="1"/>
<path d="M118.8 729.4 H137.6" stroke-width="1"/>
<!-- 4 / 5 rings -->
<path d="M224.7 683 V739 M247.8 668.6 V722.8" stroke-width="0.9"/>
<path d="M231.5 725 V731.5 Q232 736 246 736 Q260.5 736 260.8 731.5 V725" stroke-width="1.5"/>
<ellipse cx="246.1" cy="725" rx="14.7" ry="4.5" stroke-width="1.5"/>
<ellipse cx="246.1" cy="725.5" rx="10.5" ry="2.8" stroke-width="1"/>
<path d="M196.8 728.4 H231.3" stroke-width="1"/>
<path d="M207.8 740.5 V747 Q208.5 751.4 222.8 751.4 Q237.5 751.4 237.8 747 V740.5" stroke-width="1.5"/>
<ellipse cx="222.8" cy="740.5" rx="15" ry="4.5" stroke-width="1.5"/>
<ellipse cx="222.8" cy="741" rx="10.8" ry="2.8" stroke-width="1"/>
<path d="M193.5 744.2 H207.8" stroke-width="1"/>
<!-- 13 -->
<path d="M284 655.8 V676" stroke-width="1.6" stroke-dasharray="2.2 1.6" stroke-linecap="butt"/>
<path d="M300 671.1 L293 670.8 Q286.8 671.5 286.9 679 Q287.2 687.2 293.5 687.5 L300.5 687.5" stroke-width="1.6"/>
<ellipse cx="300.5" cy="679.3" rx="7" ry="8.2" stroke-width="1.6"/>
<path d="M299 674.5 Q296.5 679 299 684 M301.5 673.5 Q305 679 301 685" stroke-width="1"/>
<path d="M307.6 682.1 H316.8" stroke-width="1"/>
<!-- 15 -->
<path d="M340.5 649.2 L374.7 666.3" stroke-width="0.9"/>
<path d="M375 667 L383 663.8 L388 666 L390 673 L383 678 L378 676 L373.5 669 Z" stroke-width="1.4"/>
<path d="M374 668 L382 664.5 L384 676 L377.5 675.5 Z" fill="#111" stroke-width="0.8"/>
<ellipse cx="386" cy="671" rx="4.3" ry="6" stroke-width="1.3"/>
<path d="M386.6 678.2 V699.2" stroke-width="1"/>
<!-- 11 right -->
<path d="M405 640 V659.5 Q405.5 662 411 662.4" stroke-width="1.6" stroke-dasharray="2.2 1.6" stroke-linecap="butt"/>
<path d="M419 654.6 L415 654.6 Q411 655.5 411.2 663 Q411.5 671 415 671.5 L420 671.5" stroke-width="1.5"/>
<ellipse cx="421.5" cy="663" rx="8.5" ry="8.5" stroke-width="1.6"/>
<path d="M418 658 Q416 665 419 670 M422 657 Q425 663 421 670" stroke-width="0.9"/>
<path d="M419.5 671.6 V678" stroke-width="1"/>
<!-- 12 -->
<path d="M480 552.3 L511.2 547" stroke-width="0.9" stroke-dasharray="2 1.5"/>
<path d="M519 536.5 L516 536.8 Q510.5 538 510.6 546 Q511 553.8 516 554 L521 554" stroke-width="1.5"/>
<ellipse cx="520.5" cy="545.3" rx="9" ry="8.8" stroke-width="1.6"/>
<path d="M520 541 Q523 546 521 552" stroke-width="0.8"/>
<path d="M522 554 V564" stroke-width="1"/>
<!-- 16 -->
<path d="M511 589 L527 588 L539 588.3 Q541.5 590.5 539 593 L527 593.5 L511 593.5 Z" stroke-width="1.4"/>
<path d="M511 589 L521 588.4 L521 593.5 L511 593.5 Z" fill="#111" stroke-width="0.8"/>
<path d="M526 593.4 V609.5" stroke-width="1"/>
<path d="M503 590 L511 590" stroke-width="1.5"/>
<!-- 14 -->
<path d="M473.3 616.8 L495 626.7" stroke-width="0.9"/>
<path d="M495 625 L504 622 L510 625 L512 632 L505 636.5 L499 635 L494.5 629 Z" stroke-width="1.4"/>
<path d="M494.5 626 L503 622.5 L505 635.5 L498.5 634.5 Z" fill="#111" stroke-width="0.8"/>
<ellipse cx="507.5" cy="629.5" rx="4.2" ry="5.5" stroke-width="1.3"/>
<path d="M507.1 636.3 V654.1" stroke-width="1"/>
<path d="M491.6 647.9 L486.7 786.8" stroke-width="0.9"/>
</g>


<!-- ===== HEAD GASKET 19 ===== -->
<g fill="none" stroke="#111" stroke-width="1.3" stroke-linejoin="round" stroke-linecap="round">
<path d="M158 778.6 L219 764.5 L221.4 762.2 L229.4 761.1 L290 749.6 L410 721.9 L429.5 717.8 L437.4 718.7 L443.3 721.7 L492.6 749.3 Q498 753.5 492.6 759.2 L449.2 769 L441.3 774 L437.4 777 L390 786.8 L376 788.5 L373.6 791 L309 808.2 L290 812.9 L212.2 832.5 Q209 831.5 207.6 829 L157 784 Q153.5 780.5 158 778.6 Z" stroke-width="1.7"/>
<path d="M162 782 L220 768 L230 765 L290 753.5 L430 721.5 L437 722.5 L488 751 Q491 754 488 756.5 L448 766 L437 773 L373 787.5 L290 809 L213 828.5 L160 783.5" stroke-width="0.8"/>
<ellipse cx="224.3" cy="795" rx="38.6" ry="20.2" stroke-width="1.2"/>
<ellipse cx="224.3" cy="795" rx="35.3" ry="17.4" stroke-width="2.4"/>
<ellipse cx="295.5" cy="779" rx="37.5" ry="18.3" stroke-width="1.1"/>
<ellipse cx="295.5" cy="779" rx="34.3" ry="15.6" stroke-width="1.9"/>
<ellipse cx="365" cy="762" rx="34.3" ry="18.5" stroke-width="1.1"/>
<ellipse cx="365" cy="762" rx="31.2" ry="15.8" stroke-width="1.9"/>
<ellipse cx="432" cy="745.8" rx="36" ry="18.3" stroke-width="1.1"/>
<ellipse cx="432" cy="745.8" rx="32.8" ry="15.6" stroke-width="1.9"/>
</g>
<g fill="#111">
<ellipse cx="165" cy="785.3" rx="3" ry="1.8"/>
<ellipse cx="216.8" cy="823.3" rx="3" ry="1.8"/>
<ellipse cx="231.7" cy="766.8" rx="3.5" ry="1.8"/>
<ellipse cx="285.9" cy="803.7" rx="3" ry="1.8"/>
<ellipse cx="304.5" cy="754.1" rx="3" ry="1.6"/>
<ellipse cx="373.6" cy="735.7" rx="3" ry="1.6"/>
<ellipse cx="384" cy="732.2" rx="3" ry="1.6"/>
<ellipse cx="353" cy="785.2" rx="3" ry="1.6"/>
<ellipse cx="367.9" cy="788.6" rx="3" ry="1.6"/>
<ellipse cx="302.2" cy="806" rx="3" ry="1.6"/>
<ellipse cx="415.7" cy="725.3" rx="3" ry="1.6"/>
<ellipse cx="427.5" cy="723.7" rx="3" ry="1.6"/>
<ellipse cx="422.6" cy="767.1" rx="3" ry="1.6"/>
<ellipse cx="433.4" cy="770" rx="3" ry="1.6"/>
<ellipse cx="487.7" cy="754.3" rx="3" ry="2"/>
</g>
<g fill="none" stroke="#111" stroke-width="1">
<path d="M123.6 783 H155" />

</g>
<!-- zoom icons -->
<g fill="none" stroke="#3a3a3a" stroke-width="1.7" stroke-linecap="butt">
<circle cx="504.8" cy="866.7" r="10"/>
<path d="M499 866.7 H510.6 M504.8 860.9 V872.5"/>
<path d="M512 874 L523.2 885" stroke-width="2.6"/>
<circle cx="572.6" cy="866.7" r="10"/>
<path d="M566.8 866.7 H578.4"/>
<path d="M580 874 L591 885" stroke-width="2.6"/>
</g>

<!-- labels -->
<g class="t">
<text x="152" y="126">31</text>
<text x="235" y="137">9</text>
<text x="300.5" y="109.5">26</text>
<text x="303" y="152.2">27</text>
<text x="317.8" y="180.3">22</text>
<text x="338.5" y="118.7">30</text>
<text x="520" y="103.2">24</text>
<text x="519.5" y="122.5">23</text>
<text x="392.5" y="316.5">21</text>
<text x="146.5" y="429">6</text>
<text x="321" y="375.6">6</text>
<text x="442" y="359.7">6</text>
<text x="244.5" y="397.7">8</text>
<text x="247" y="453.6">7</text>
<text x="106.5" y="467.7">25</text>
<text x="186" y="512.8">3</text>
<text x="266" y="502.9">2</text>
<text x="355" y="474">29</text>
<text x="394.5" y="474.8" font-size="15">1</text>
<text x="524.3" y="461.1">20</text>
<text x="556" y="506.7">28</text>
<text x="134" y="574">10</text>
<text x="105.7" y="588.2">18</text>
<text x="128.7" y="647.3">17</text>
<text x="99.7" y="734.4">11</text>
<text x="182" y="734.4">4</text>
<text x="178" y="751.5">5</text>
<text x="98.7" y="791">19</text>
<text x="512.5" y="579.2">12</text>
<text x="516.5" y="627.4">16</text>
<text x="499.5" y="669.4">14</text>
<text x="326" y="690.1">13</text>
<text x="375.8" y="717.7">15</text>
<text x="414" y="695.4">11</text>
<text x="511.5" y="804.8" font-size="13.5">9105</text>
</g>
</svg>
</body></html>
